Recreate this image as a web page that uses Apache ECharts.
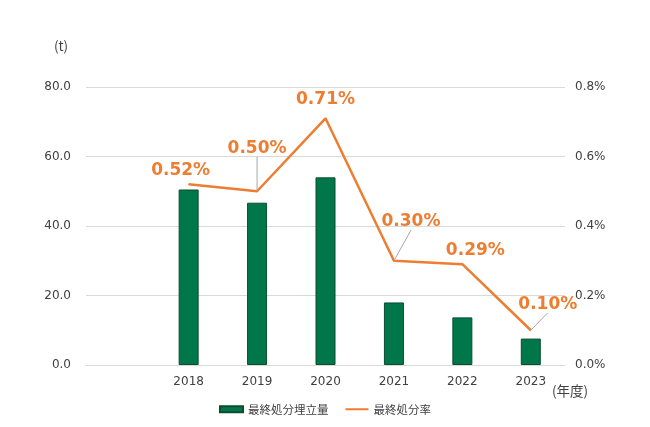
<!DOCTYPE html>
<html><head><meta charset="utf-8">
<script src="https://cdn.jsdelivr.net/npm/echarts@6/dist/echarts.min.js"></script>
<style>html,body{margin:0;padding:0;background:#fff}#c{width:650px;height:427px}</style>
</head><body><div id="c"></div>
<script>
const categories = ['', '2018', '2019', '2020', '2021', '2022', '2023'];
const landfillAmount = [null, 50.5, 46.7, 54.0, 18.0, 13.7, 7.6];
const disposalRate = [null, 0.52, 0.50, 0.71, 0.30, 0.29, 0.10];
const leftTicks = [0, 20, 40, 60, 80];
const rightTicks = [0, 0.2, 0.4, 0.6, 0.8];
const labelShift = [null, [-8, 0], [0, -29], [0, -5], [17, -25], [13, 0], [17, -12]];
const withLeader = [false, false, true, false, true, false, true];

const font = '"Noto Sans CJK JP", "Noto Sans", sans-serif';
const numFont = '"DejaVu Sans", sans-serif';
const chart = echarts.init(document.getElementById('c'));
chart.setOption({
  animation: false,
  textStyle: {fontFamily: font},
  grid: {left: 86, right: 85, top: 87, bottom: 62},
  legend: {
    bottom: 7, left: 'center', itemWidth: 23, itemHeight: 6, itemGap: 16,
    textStyle: {fontSize: 11.5, color: '#404040', fontFamily: font},
    data: [{name: '最終処分埋立量', icon: 'rect'}, {name: '最終処分率', itemStyle: {opacity: 0}}]
  },
  xAxis: {
    type: 'category', data: categories,
    name: '(年度)', nameLocation: 'end', nameGap: 6,
    nameTextStyle: {fontSize: 13.5, color: '#404040', verticalAlign: 'top', padding: [19, 0, 0, -38]},
    axisLine: {lineStyle: {color: '#d9d9d9'}}, axisTick: {show: false},
    axisLabel: {fontSize: 12, color: '#404040', margin: 11, fontFamily: numFont}
  },
  yAxis: [{
    type: 'value', min: leftTicks[0], max: leftTicks[leftTicks.length - 1], interval: 20,
    name: '(t)', nameLocation: 'end', nameGap: 34,
    nameTextStyle: {fontSize: 13.5, color: '#404040', padding: [0, 0, 0, -50]},
    axisLabel: {fontSize: 12, color: '#404040', margin: 15, fontFamily: numFont, formatter: v => v.toFixed(1)},
    splitLine: {lineStyle: {color: '#d9d9d9'}}, axisLine: {show: false}, axisTick: {show: false}
  }, {
    type: 'value', min: rightTicks[0], max: rightTicks[rightTicks.length - 1], interval: 0.2,
    axisLabel: {fontSize: 12, color: '#404040', margin: 10, fontFamily: numFont, formatter: v => v.toFixed(1) + '%'},
    splitLine: {show: false}, axisLine: {show: false}, axisTick: {show: false}
  }],
  series: [{
    name: '最終処分埋立量', type: 'bar', data: landfillAmount, barWidth: 20,
    itemStyle: {color: '#00774A', borderColor: '#0B4D2E', borderWidth: 1}
  }, {
    name: '最終処分率', type: 'line', yAxisIndex: 1,
    data: disposalRate.map((v, i) => ({
      value: v,
      labelLine: {show: withLeader[i], lineStyle: {color: '#a6a6a6', width: 1}}
    })),
    symbol: 'circle', symbolSize: 1, showAllSymbol: true,
    lineStyle: {color: '#ED7D31', width: 2.5}, itemStyle: {color: '#ED7D31'},
    label: {
      show: true, position: 'top', distance: 5, fontSize: 17, fontWeight: 'bold', color: '#ED7D31',
      fontFamily: numFont, formatter: p => p.value.toFixed(2) + '%'
    },
    labelLayout: p => {
      const s = labelShift[p.dataIndex];
      return s ? {dx: s[0], dy: s[1]} : {};
    }
  }]
});
</script></body></html>
